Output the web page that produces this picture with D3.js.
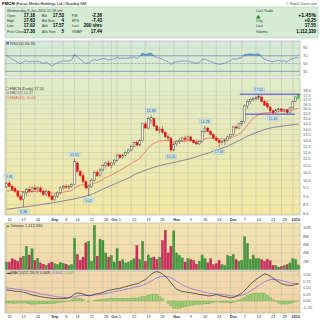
<!DOCTYPE html>
<html>
<head>
<meta charset="utf-8">
<script src="https://cdn.jsdelivr.net/npm/d3@7"></script>
<style>
  body { margin: 0; background: #fff; }
  svg { display: block; }
  text { font-family: "Liberation Sans", Arial, sans-serif; }
</style>
</head>
<body>
<div id="chart"></div>
<script>
// trading days shown on the chart
const dates = [
  "2009-08-10","2009-08-11","2009-08-12","2009-08-13","2009-08-14","2009-08-17","2009-08-18","2009-08-19","2009-08-20","2009-08-21",
  "2009-08-24","2009-08-25","2009-08-26","2009-08-27","2009-08-28","2009-08-31",
  "2009-09-01","2009-09-02","2009-09-03","2009-09-04","2009-09-08","2009-09-09","2009-09-10","2009-09-11","2009-09-14","2009-09-15",
  "2009-09-16","2009-09-17","2009-09-18","2009-09-21","2009-09-22","2009-09-23","2009-09-24","2009-09-25","2009-09-28","2009-09-29","2009-09-30",
  "2009-10-01","2009-10-02","2009-10-05","2009-10-06","2009-10-07","2009-10-08","2009-10-09","2009-10-12","2009-10-13","2009-10-14",
  "2009-10-15","2009-10-16","2009-10-19","2009-10-20","2009-10-21","2009-10-22","2009-10-23","2009-10-26","2009-10-27","2009-10-28","2009-10-29","2009-10-30",
  "2009-11-02","2009-11-03","2009-11-04","2009-11-05","2009-11-06","2009-11-09","2009-11-10","2009-11-11","2009-11-12","2009-11-13",
  "2009-11-16","2009-11-17","2009-11-18","2009-11-19","2009-11-20","2009-11-23","2009-11-24","2009-11-25","2009-11-27","2009-11-30",
  "2009-12-01","2009-12-02","2009-12-03","2009-12-04","2009-12-07","2009-12-08","2009-12-09","2009-12-10","2009-12-11","2009-12-14",
  "2009-12-15","2009-12-16","2009-12-17","2009-12-18","2009-12-21","2009-12-22","2009-12-23","2009-12-24","2009-12-28","2009-12-29","2009-12-30","2009-12-31",
  "2010-01-04","2010-01-05","2010-01-06"
];

const open = [9.6,9.8,9.6,9.45,9.3,9.0,8.8,9.2,9.4,9.3, 9.5,9.4,9.5,9.3,9.1,9.3,
  9.0,8.8,9.0,9.2,9.5,9.6,9.55,9.6,9.7,11.2, 10.6,10.3,9.9,9.5,9.6,10.0,10.5,10.3,10.7,11.0,11.2,
  11.0,11.2,11.4,11.8,11.6,11.8,12.0,12.2,12.5,12.8, 12.6,13.0,14.5,14.1,14.8,15.0,14.3,13.9,14.0,13.7,13.3,13.2,
  12.2,12.7,12.9,13.0,13.2,13.1,13.3,13.0,12.8,12.7, 12.9,13.8,14.1,13.8,13.5,13.2,13.0,12.8,12.9,13.0,
  13.3,13.5,14.2,14.1,14.5,14.7,16.3,16.8,17.0,17.1, 17.2,17.3,16.8,16.6,16.2,15.8,15.6,15.9,16.0,15.8,15.9,15.6,
  16.1,16.8,17.18];
const high = [9.9,9.95,9.7,9.6,9.35,9.1,9.3,9.5,9.6,9.6, 9.7,9.6,9.6,9.4,9.4,9.35,
  9.1,9.1,9.3,9.6,9.7,9.75,9.7,9.8,11.51,11.3, 10.7,10.5,10.0,9.7,10.1,10.6,10.7,10.8,11.1,11.3,11.4,
  11.3,11.5,11.9,11.9,11.9,12.1,12.3,12.6,12.9,13.0, 13.1,14.6,14.7,15.2,15.38,15.1,14.4,14.2,14.3,13.8,13.5,13.3,
  12.8,13.0,13.2,13.3,13.4,13.4,13.4,13.1,13.0,13.0, 13.9,14.28,14.2,13.9,13.6,13.4,13.1,13.0,13.1,13.4,
  13.6,14.3,14.4,14.6,14.8,16.5,17.0,17.2,17.3,17.4, 17.62,17.5,17.0,16.9,16.3,15.9,16.0,16.1,16.1,16.0,16.0,16.2,
  16.9,17.4,17.63];
const low = [9.5,9.55,9.3,9.2,8.9,8.7,8.38,9.0,9.2,9.2, 9.3,9.2,9.2,9.0,9.0,8.9,
  8.7,8.7,8.9,9.1,9.4,9.45,9.4,9.5,9.65,10.5, 10.2,9.8,9.4,9.02,9.5,9.9,10.2,10.2,10.6,10.8,10.9,
  10.8,11.0,11.3,11.5,11.5,11.7,11.9,12.1,12.4,12.5, 12.5,12.9,14.0,14.0,14.5,14.2,13.8,13.6,13.6,13.2,13.0,12.05,
  12.1,12.5,12.7,12.9,12.9,13.0,12.9,12.7,12.6,12.6, 12.8,13.6,13.7,13.4,13.1,12.9,12.4,12.6,12.6,12.9,
  13.2,13.4,14.0,14.0,14.3,14.6,16.0,16.5,16.8,16.9, 17.0,16.7,16.3,16.0,15.6,15.45,15.5,15.7,15.7,15.6,15.5,15.5,
  16.0,16.7,17.02];
const close = [9.8,9.6,9.4,9.3,9.0,8.8,9.2,9.4,9.3,9.5, 9.4,9.5,9.3,9.1,9.3,9.0,
  8.8,9.0,9.2,9.5,9.6,9.55,9.6,9.7,11.3,10.6, 10.3,9.9,9.5,9.6,10.0,10.5,10.3,10.7,11.0,11.2,11.0,
  11.2,11.4,11.8,11.6,11.8,12.0,12.2,12.5,12.8,12.6, 13.0,14.5,14.1,15.0,15.1,14.3,13.9,14.0,13.7,13.3,13.2,12.2,
  12.7,12.9,13.0,13.2,13.1,13.3,13.0,12.8,12.7,12.9, 13.8,14.1,13.8,13.5,13.2,13.0,12.8,12.9,13.0,13.3,
  13.5,14.2,14.1,14.5,14.7,16.3,16.8,17.0,17.1,17.2, 17.4,16.8,16.4,16.2,15.8,15.6,15.9,16.0,15.8,15.9,15.6,16.1,
  16.8,17.3,17.55];

// volume in millions of shares
const volume = [1.8,1.8,2.6,2.3,2.0,2.8,3.2,5.6,3.5,5.0, 2.2,2.7,1.6,1.3,1.0,1.5,
  1.8,1.4,1.2,1.7,1.5,1.3,1.0,1.2,7.5,3.6, 2.2,3.0,6.4,6.8,2.0,10.6,3.2,7.3,7.0,4.0,3.0,
  3.4,1.8,5.0,2.0,2.4,1.6,1.8,2.2,2.6,5.8, 2.4,6.8,2.0,3.5,2.8,3.0,2.4,3.0,7.0,9.5,4.0,5.6,
  9.3,4.0,3.4,2.8,1.8,2.6,2.4,2.2,1.3,2.0, 3.5,2.6,1.6,2.6,1.2,1.4,2.2,1.2,1.0,3.4,
  3.2,3.6,2.4,2.0,2.2,7.9,6.3,2.5,3.5,2.6, 2.6,2.4,2.0,2.5,2.1,1.0,0.9,0.6,0.8,1.0,1.2,1.6,
  2.6,2.4,1.1];

const ma50 = [8.25,8.27,8.29,8.31,8.33,8.35,8.37,8.39,8.41,8.44,8.46,8.48,8.51,8.53,8.56,8.58,8.60,8.63,8.66,
  8.69,8.72,8.75,8.78,8.81,8.84,8.88,8.92,8.96,9.00,9.04,9.10,
  9.18,9.26,9.34,9.42,9.50,9.58,9.66,9.74,9.82,9.90,9.98,10.06,10.14,10.24,10.36,
  10.44,10.52,10.60,10.68,10.75,10.82,10.88,10.94,11.00,
  11.05,11.10,11.15,11.20,11.24,11.28,11.33,11.38,11.43,11.48,11.54,11.60,
  11.67,11.74,11.81,11.88,11.95,12.02,12.10,
  12.18,12.26,12.34,12.42,12.50,
  12.62,12.74,12.86,12.98,13.10,13.23,13.37,
  13.47,13.57,13.67,13.77,13.86,13.95,14.03,14.10,
  14.15,14.19,14.23,14.27,14.31,14.35,14.38,14.41,14.44,14.47];

const ema20 = [9.30,9.33,9.34,9.33,9.31,9.28,9.27,9.26,9.26,9.27,9.27,
  9.28,9.28,9.26,9.26,9.23,9.19,9.17,9.17,9.20,9.24,
  9.27,9.30,9.33,9.50,9.60,9.67,9.70,9.69,9.68,9.72,
  9.80,9.85,9.94,10.05,10.17,10.25,10.34,
  10.44,10.57,10.67,10.78,10.90,11.02,11.16,11.30,
  11.40,11.55,11.85,12.07,12.35,12.60,12.75,12.84,12.93,
  12.98,12.99,12.99,12.88,12.86,12.87,12.88,12.91,12.93,12.96,12.96,12.95,
  12.93,12.93,13.02,13.13,13.19,13.21,13.20,13.18,13.14,13.12,13.11,13.13,13.17,
  13.31,13.42,13.57,13.72,14.04,14.39,14.73,15.05,15.26,15.43,
  15.53,15.59,15.62,15.63,15.63,15.66,15.70,15.72,15.74,15.73,15.77,15.88,16.00,16.06];

const rsi = [71,66,61,58,53,50,55,57,54,56, 54,56,53,50,53,49,44,48,52,55,
  57,56,57,59,73,66,61,55,50,52, 57,61,58,61,63,62,59,61,62,66,
  62,64,63,64,65,67,63,68,77,73, 76,77,70,65,64,61,57,55,47,53,
  55,55,57,56,57,54,52,51,53,60, 62,58,55,52,50,48,49,51,55,58,
  63,61,64,65,73,74,75,74,74,75, 66,61,59,56,54,57,58,56,57,55,
  60,63,65,64.35];

const macd = [0.42,0.41,0.40,0.38,0.37,0.36,0.34,0.31,0.27,0.23,
  0.21,0.19,0.17,0.15,0.13,0.12,0.10,0.09,0.09,0.09,
  0.10,0.10,0.12,0.18,0.27,0.31,0.30,0.27,0.22,0.20,
  0.22,0.26,0.28,0.30,0.33,0.37,0.41,0.43,0.45,0.47,
  0.49,0.52,0.55,0.58,0.61,0.64,0.66,0.70,0.78,0.82,
  0.92,1.02,1.10,1.13,1.10,1.04,0.95,0.84,0.70,0.56,
  0.46,0.40,0.37,0.35,0.33,0.32,0.30,0.28,0.25,0.24,
  0.22,0.20,0.20,0.22,0.25,0.22,0.19,0.17,0.15,0.12,
  0.14,0.18,0.24,0.30,0.40,0.52,0.64,0.74,0.82,0.90,
  0.98,1.04,1.02,0.96,0.88,0.80,0.73,0.67,0.63,0.61,
  0.60,0.61,0.64,0.668];
const signal = [0.50,0.49,0.48,0.47,0.45,0.44,0.42,0.40,0.38,0.35,
  0.33,0.31,0.28,0.26,0.24,0.22,0.20,0.18,0.16,0.15,
  0.14,0.13,0.13,0.14,0.16,0.19,0.21,0.22,0.22,0.22,
  0.22,0.23,0.24,0.25,0.27,0.29,0.31,0.33,0.36,0.38,
  0.40,0.42,0.45,0.47,0.50,0.52,0.55,0.57,0.61,0.65,
  0.70,0.76,0.83,0.89,0.93,0.95,0.95,0.93,0.89,0.83,
  0.76,0.69,0.62,0.57,0.52,0.48,0.45,0.42,0.39,0.36,
  0.33,0.31,0.29,0.28,0.27,0.26,0.25,0.23,0.22,0.20,
  0.19,0.19,0.20,0.22,0.26,0.31,0.38,0.45,0.52,0.60,
  0.67,0.74,0.79,0.82,0.83,0.83,0.81,0.79,0.76,0.73,
  0.70,0.68,0.67,0.664];
const hist = [-0.08,-0.08,-0.08,-0.09,-0.08,-0.08,-0.08,-0.09,-0.11,-0.12,
  -0.12,-0.12,-0.11,-0.11,-0.11,-0.10,-0.10,-0.09,-0.07,-0.06,
  -0.04,-0.03,-0.01,0.04,0.11,0.12,0.09,0.05,0.00,-0.02,
  0.00,0.03,0.04,0.05,0.06,0.08,0.10,0.10,0.09,0.09,
  0.09,0.10,0.10,0.11,0.11,0.12,0.11,0.13,0.17,0.17,
  0.22,0.26,0.27,0.24,0.17,0.09,0.00,-0.09,-0.19,-0.27,
  -0.30,-0.29,-0.25,-0.22,-0.19,-0.16,-0.15,-0.14,-0.14,-0.12,
  -0.11,-0.11,-0.09,-0.06,-0.02,-0.04,-0.06,-0.06,-0.07,-0.08,
  -0.05,-0.01,0.04,0.08,0.14,0.21,0.26,0.29,0.30,0.30,
  0.31,0.30,0.23,0.14,0.05,-0.03,-0.08,-0.12,-0.13,-0.12,
  -0.10,-0.07,-0.03,0.005];

// axis ticks
const tickDates = ["2009-08-10","2009-08-17","2009-08-24","2009-09-01","2009-09-08","2009-09-14","2009-09-21","2009-09-28",
  "2009-10-01","2009-10-05","2009-10-12","2009-10-19","2009-10-26","2009-11-02","2009-11-09","2009-11-16","2009-11-23",
  "2009-12-01","2009-12-07","2009-12-14","2009-12-21","2009-12-28","2010-01-04"];
const tickLabels = ["10","17","24","Sep","8","14","21","28","Oct","5","12","19","26","Nov","9","16","23","Dec","7","14","21","28","2010"];
const priceTicks = [8,8.5,9,9.5,10,10.5,11,11.5,12,12.5,13,13.5,14,14.5,15,15.5,16,16.5,17,17.5,18];
const rsiTicks = [30,50,70,90];
const volTicks = [2,4,6,8,10];
const volTickLabels = ["2M","4M","6M","8M","10M"];
const macdTicks = [-0.25,0,0.25,0.5,0.75,1];

// high / low annotations
const markIdx = [1,6,24,29,51,58,70,75,89,94];
const markText = ["9.95","8.38","11.51","9.02","15.38","12.05","14.28","12.40","17.62","15.45"];
const markSide = ["hi","lo","hi","lo","hi","lo","hi","lo","hi","lo"];

// support / resistance lines
const levelPrice = [17.63, 15.45];
const levelFrom = ["2009-12-07","2009-12-09"];
const levelTo = ["2010-01-06","2010-01-04"];

const W = 320, H = 320;
const left = 5, right = 300;
const panels = {
  rsi: [41, 76],
  price: [78, 215],
  vol: [223, 270],
  macd: [271, 313]
};

const svg = d3.select("#chart").append("svg")
  .attr("width", W).attr("height", H);

const defs = svg.append("defs");
function grad(id, c1, c2) {
  let g = defs.append("linearGradient").attr("id", id)
    .attr("x1", 0).attr("y1", 0).attr("x2", 0).attr("y2", 1);
  g.append("stop").attr("offset", "0%").attr("stop-color", c1);
  g.append("stop").attr("offset", "100%").attr("stop-color", c2);
}
grad("gRsi", "#d3eadb", "#dcebcb");
grad("gPrice", "#e0ecca", "#f4e7a2");
grad("gVol", "#f4e3b2", "#f2d9aa");
grad("gMacd", "#f3d9ae", "#f1d3a6");

const x = d3.scalePoint().domain(dates).range([6.5, 298.5]);

// ---- header ----
const head = svg.append("g");
head.append("text").attr("x", 2).attr("y", 5).attr("font-size", 3.9)
  .html('<tspan font-weight="bold" font-size="4.4">FMCN</tspan> (Focus Media Holdings Ltd.)  Nasdaq GM');
head.append("text").attr("x", 317).attr("y", 5).attr("font-size", 3.6)
  .attr("text-anchor", "end").attr("fill", "#555").text("© StockCharts.com");
head.append("rect").attr("x", 5).attr("y", 7).attr("width", 313).attr("height", 31)
  .attr("fill", "#d4ebd4").attr("stroke", "#a9c9a9").attr("stroke-width", 0.5);

head.append("text").attr("x", 7).attr("y", 11.5).attr("font-size", 3.7).attr("fill", "#333")
  .text("Wednesday  6-Jan-2010  11:18 am");

const infoRows = [
  ["Open", "17.18", "Bid", "17.53", "P/E", "-2.36"],
  ["High", "17.63", "Bid Size", "4", "EPS", "-7.43"],
  ["Low", "17.02", "Ask", "17.57", "Last", "200 shrs"],
  ["Prev Close", "17.30", "Ask Size", "5", "VWAP", "17.44"]
];
const rowY = [17, 22, 27, 32.5];
infoRows.forEach(function(r, i) {
  let g = head.append("g").attr("transform", `translate(0, ${rowY[i]})`);
  g.append("text").attr("x", 7).attr("font-size", 3.5).attr("fill", "#333").text(r[0]);
  g.append("text").attr("x", 35).attr("text-anchor", "end").attr("font-size", 4.5).attr("font-weight", "bold").text(r[1]);
  g.append("text").attr("x", 42).attr("font-size", 3.5).attr("fill", "#333").text(r[2]);
  g.append("text").attr("x", 64).attr("text-anchor", "end").attr("font-size", 4.5).attr("font-weight", "bold").text(r[3]);
  g.append("text").attr("x", 72).attr("font-size", 3.5).attr("fill", "#333").text(r[4]);
  g.append("text").attr("x", 102).attr("text-anchor", "end").attr("font-size", 4.5).attr("font-weight", "bold").text(r[5]);
});

head.append("text").attr("x", 256).attr("y", 11.5).attr("font-size", 3.7).attr("fill", "#333").text("Last Trade");
head.append("path").attr("d", "M256,18.5 L258.3,14.8 L260.6,18.5 Z").attr("fill", "#1a8a1a");
const tradeRows = [["", "+1.45%"], ["Chg", "+0.25"], ["Last", "17.55"], ["Volume", "1,112,330"]];
tradeRows.forEach(function(r, i) {
  head.append("text").attr("x", 256).attr("y", rowY[i]).attr("font-size", 3.5).attr("fill", "#333").text(r[0]);
  head.append("text").attr("x", 316).attr("y", rowY[i]).attr("text-anchor", "end")
    .attr("font-size", i === 0 ? 5.2 : 4.5).attr("font-weight", "bold").text(r[1]);
});

// ---- panel frames ----
function frame(p, fill) {
  svg.append("rect").attr("x", left).attr("y", p[0]).attr("width", right - left).attr("height", p[1] - p[0])
    .attr("fill", fill).attr("stroke", "#9aa39a").attr("stroke-width", 0.5);
}
frame(panels.rsi, "url(#gRsi)");
frame(panels.price, "url(#gPrice)");
frame(panels.vol, "url(#gVol)");
frame(panels.macd, "url(#gMacd)");

// vertical grid for every panel
Object.values(panels).forEach(function(p) {
  svg.append("g").selectAll("line").data(tickDates).enter().append("line")
    .attr("x1", d => x(d)).attr("x2", d => x(d))
    .attr("y1", p[0]).attr("y2", p[1])
    .attr("stroke", "#bdbfa9").attr("stroke-width", 0.5);
});

function rightLabels(ticks, scale, fmt) {
  svg.append("g").selectAll("text").data(ticks).enter().append("text")
    .attr("x", 303).attr("y", d => scale(d) + 1.4)
    .attr("font-size", 4).attr("fill", "#555")
    .text(fmt);
}
function hGrid(ticks, scale, color) {
  svg.append("g").selectAll("line").data(ticks).enter().append("line")
    .attr("x1", left).attr("x2", right)
    .attr("y1", d => scale(d)).attr("y2", d => scale(d))
    .attr("stroke", color || "#c4c8ad").attr("stroke-width", 0.5);
}
function xLabels(y) {
  svg.append("g").selectAll("text").data(tickDates).enter().append("text")
    .attr("x", (d) => x(d) + 3).attr("y", y)
    .attr("text-anchor", "middle").attr("font-size", 3.8)
    .attr("font-weight", (d, i) => isNaN(+tickLabels[i]) || tickLabels[i] === "2010" ? "bold" : "normal")
    .attr("fill", "#333")
    .text((d, i) => tickLabels[i]);
}

// ---- RSI ----
const yR = d3.scaleLinear().domain([30, 90]).range([71.3, 48]);
hGrid(rsiTicks, yR);
svg.append("line").attr("x1", left).attr("x2", right).attr("y1", yR(70)).attr("y2", yR(70))
  .attr("stroke", "#7c86b4").attr("stroke-width", 0.7);
svg.append("line").attr("x1", left).attr("x2", right).attr("y1", yR(30)).attr("y2", yR(30))
  .attr("stroke", "#7c86b4").attr("stroke-width", 0.7);
svg.append("line").attr("x1", left).attr("x2", right).attr("y1", yR(50)).attr("y2", yR(50))
  .attr("stroke", "#7c86b4").attr("stroke-width", 0.5).attr("stroke-dasharray", "2,1.5");
svg.append("path").datum(rsi)
  .attr("d", d3.area().x((d, i) => x(dates[i])).y0(yR(70)).y1(d => yR(Math.max(d, 70))))
  .attr("fill", "#3f93ad").attr("opacity", 0.8);
svg.append("path").datum(rsi)
  .attr("d", d3.line().x((d, i) => x(dates[i])).y(d => yR(d)))
  .attr("fill", "none").attr("stroke", "#5b64c8").attr("stroke-width", 0.6);
rightLabels(rsiTicks, yR, d => d);
svg.append("rect").attr("x", 6.5).attr("y", 42).attr("width", 2.5).attr("height", 2.5).attr("fill", "#5b64c8");
svg.append("text").attr("x", 10).attr("y", 44.6).attr("font-size", 4).attr("fill", "#333").text("RSI(14) 64.35");

// ---- price ----
const yP = d3.scaleLog().domain([8, 18]).range([214, 91]);
hGrid(priceTicks, yP);
rightLabels(priceTicks, yP, d => d.toFixed(1));

const line = d3.line().x((d, i) => x(dates[i]));
svg.append("path").datum(ma50).attr("d", line.y(d => yP(d)))
  .attr("fill", "none").attr("stroke", "#6a6a9c").attr("stroke-width", 0.8);
svg.append("path").datum(ema20).attr("d", line.y(d => yP(d)))
  .attr("fill", "none").attr("stroke", "#ee6a5a").attr("stroke-width", 0.8);

const cw = 1.9;
const candles = svg.append("g").selectAll("g").data(dates).enter().append("g");
function candleColor(i) {
  if (i === dates.length - 1) return "#10a010";
  const prev = i > 0 ? close[i - 1] : open[i];
  return close[i] >= prev ? "#3a3a3a" : "#e01010";
}
candles.append("line")
  .attr("x1", d => x(d)).attr("x2", d => x(d))
  .attr("y1", (d, i) => yP(high[i])).attr("y2", (d, i) => yP(low[i]))
  .attr("stroke", (d, i) => candleColor(i)).attr("stroke-width", 0.5);
candles.append("rect")
  .attr("x", d => x(d) - cw / 2)
  .attr("y", (d, i) => yP(Math.max(open[i], close[i])))
  .attr("width", cw)
  .attr("height", (d, i) => Math.max(0.5, yP(Math.min(open[i], close[i])) - yP(Math.max(open[i], close[i]))))
  .attr("fill", (d, i) => i === dates.length - 1 ? "#33dd33" : (close[i] >= open[i] ? "#fbfbee" : candleColor(i)))
  .attr("stroke", (d, i) => candleColor(i)).attr("stroke-width", 0.45);

// support / resistance
svg.append("g").selectAll("line").data(levelPrice).enter().append("line")
  .attr("x1", (d, i) => x(levelFrom[i]) - 2).attr("x2", (d, i) => x(levelTo[i]) + 2)
  .attr("y1", d => yP(d)).attr("y2", d => yP(d))
  .attr("stroke", "#3030e0").attr("stroke-width", 0.9);

// high/low boxes
const marks = svg.append("g").selectAll("g").data(markIdx).enter().append("g")
  .attr("transform", function(d, i) {
    let yy = markSide[i] === "hi" ? yP(high[d]) - 4.5 : yP(low[d]) + 4.5;
    return `translate(${x(dates[d])}, ${yy})`;
  });
marks.append("rect").attr("x", -5.5).attr("y", -2.2).attr("width", 11).attr("height", 4.4)
  .attr("fill", "#cdeaf2").attr("stroke", "#86b6c8").attr("stroke-width", 0.3);
marks.append("text").attr("text-anchor", "middle").attr("y", 1.3).attr("font-size", 3.6)
  .attr("fill", "#345").text((d, i) => markText[i]);

// legend
const leg = svg.append("g");
leg.append("rect").attr("x", 6.5).attr("y", 87).attr("width", 1.6).attr("height", 3).attr("fill", "#fff").attr("stroke", "#444").attr("stroke-width", 0.3);
leg.append("text").attr("x", 9.5).attr("y", 90).attr("font-size", 3.9).attr("fill", "#333").text("FMCN (Daily) 17.55");
leg.append("line").attr("x1", 6.5).attr("x2", 9).attr("y1", 93).attr("y2", 93).attr("stroke", "#6a6a9c").attr("stroke-width", 0.8);
leg.append("text").attr("x", 9.5).attr("y", 94.4).attr("font-size", 3.9).attr("fill", "#6a6a9c").text("MA(50) 14.47");
leg.append("line").attr("x1", 6.5).attr("x2", 9).attr("y1", 97.4).attr("y2", 97.4).attr("stroke", "#ee6a5a").attr("stroke-width", 0.8);
leg.append("text").attr("x", 9.5).attr("y", 98.8).attr("font-size", 3.9).attr("fill", "#e0584a").text("EMA(20) 16.06");

xLabels(220.5);

// ---- volume ----
const yV = d3.scaleLinear().domain([0, 10]).range([269.5, 228]);
hGrid(volTicks, yV);
svg.append("g").selectAll("text").data(volTicks).enter().append("text")
  .attr("x", 303).attr("y", d => yV(d) + 1.4).attr("font-size", 4).attr("fill", "#555")
  .text((d, i) => volTickLabels[i]);
svg.append("g").selectAll("rect").data(volume).enter().append("rect")
  .attr("x", (d, i) => x(dates[i]) - 1.1)
  .attr("y", d => yV(d))
  .attr("width", 2.2)
  .attr("height", d => yV(0) - yV(d))
  .attr("fill", (d, i) => (i > 0 && close[i] < close[i - 1]) ? "#cc2d5c" : "#3f9a3f")
  .attr("stroke", (d, i) => (i > 0 && close[i] < close[i - 1]) ? "#a8204a" : "#2c7c2c")
  .attr("stroke-width", 0.3);
svg.append("path").attr("d", "M6.5,227 L8,225 L9.5,227 Z").attr("fill", "#1a8a1a");
svg.append("text").attr("x", 10.5).attr("y", 227.2).attr("font-size", 4).attr("fill", "#333").text("Volume 1,112,330");

// ---- MACD ----
const yM = d3.scaleLinear().domain([0, 1]).range([301, 275]);
hGrid(macdTicks, yM);
rightLabels(macdTicks, yM, d => d.toFixed(2));
svg.append("g").selectAll("rect").data(hist).enter().append("rect")
  .attr("x", (d, i) => x(dates[i]) - 1.2)
  .attr("y", d => Math.min(yM(d), yM(0)))
  .attr("width", 2.4)
  .attr("height", d => Math.abs(yM(d) - yM(0)))
  .attr("fill", "#9fd27a").attr("stroke", "#5a9a3a").attr("stroke-width", 0.3);
svg.append("path").datum(signal).attr("d", line.y(d => yM(d)))
  .attr("fill", "none").attr("stroke", "#8a5ae0").attr("stroke-width", 0.7);
svg.append("path").datum(macd).attr("d", line.y(d => yM(d)))
  .attr("fill", "none").attr("stroke", "#222").attr("stroke-width", 0.7);
svg.append("text").attr("x", 7).attr("y", 274).attr("font-size", 4)
  .html('<tspan fill="#333">▬MACD(12,26,9) 0.668,</tspan> <tspan fill="#8a5ae0">0.664,</tspan> <tspan fill="#6aa84f">0.005</tspan>');

xLabels(317.5);
</script>
</body>
</html>
